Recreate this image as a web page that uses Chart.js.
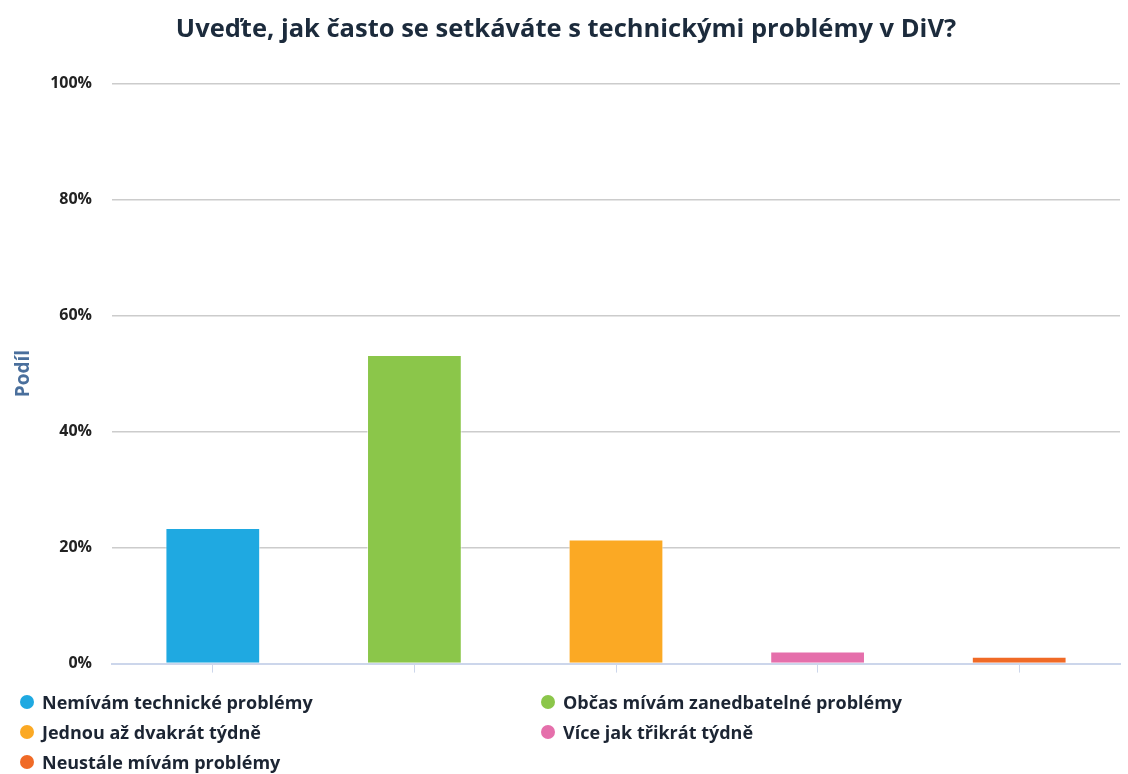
<!DOCTYPE html>
<html lang="cs">
<head>
<meta charset="utf-8">
<title>Technické problémy v DiV</title>
<script src="https://cdn.jsdelivr.net/npm/chart.js@4.4.1/dist/chart.umd.min.js"></script>
<style>
  html, body { margin: 0; padding: 0; background: #fff; }
  #wrap { position: relative; width: 1128px; height: 774px; }
  #chart { position: absolute; left: 0; top: 0; }
  #legend {
    position: absolute; left: 20px; top: 691px; width: 1100px;
    display: grid; grid-template-columns: 521px 521px; row-gap: 8px;
    font: bold 18px "Open Sans", sans-serif; color: #1c2533;
  }
  #legend .item { display: flex; align-items: center; height: 22px; white-space: nowrap; }
  #legend .dot { width: 14px; height: 14px; border-radius: 50%; margin-right: 8px; }
</style>
</head>
<body>
<div id="wrap">
  <canvas id="chart" width="1128" height="774"></canvas>
  <div id="legend"></div>
</div>
<script>
var nadpis = "Uveďte, jak často se setkáváte s technickými problémy v DiV?";
var kategorie = [
    "Nemívám technické problémy",
    "Občas mívám zanedbatelné problémy",
    "Jednou až dvakrát týdně",
    "Více jak třikrát týdně",
    "Neustále mívám problémy"
];
var podil = [23.4, 53.2, 21.4, 2.1, 1.2];
var barvy = ["#1fa9e1", "#8bc64a", "#fba924", "#e56fab", "#f06a26"];
var osaY = [0, 20, 40, 60, 80, 100];

new Chart(document.getElementById("chart").getContext("2d"), {
    type: 'bar',
    data: {
        labels: kategorie,
        datasets: [{
            data: podil,
            backgroundColor: barvy,
            borderColor: 'rgba(255,255,255,0.6)',
            borderWidth: 1,
            barPercentage: 0.94,
            categoryPercentage: 0.5
        }]
    },
    options: {
        responsive: false,
        animation: false,
        layout: { padding: { top: 6, right: 8, bottom: 81, left: 12 } },
        plugins: {
            legend: { display: false },
            tooltip: { enabled: false },
            title: {
                display: true,
                text: nadpis,
                color: '#1c2b3c',
                font: { family: 'Open Sans', size: 25.5, weight: 'bold' },
                padding: { top: 8, bottom: 39 }
            }
        },
        scales: {
            x: {
                offset: true,
                grid: { offset: false, drawOnChartArea: false, drawTicks: true, tickLength: 9, color: '#ccd6eb' },
                border: { color: '#ccd6eb', width: 2 },
                ticks: { callback: function () { return ''; } }
            },
            y: {
                min: 0,
                max: 100,
                afterBuildTicks: function (axis) {
                    axis.ticks = osaY.map(function (v) { return { value: v }; });
                },
                // pevná šířka osy, aby plocha grafu začínala u x = 112
                afterFit: function (axis) { axis.width = 100; },
                grid: { color: '#cccccc', lineWidth: 1.5, drawTicks: false },
                border: { display: false },
                ticks: {
                    padding: 20,
                    color: '#222',
                    font: { family: 'Open Sans', size: 16, weight: 'bold' },
                    callback: function (v) { return v + '%'; }
                },
                title: {
                    display: true,
                    text: 'Podíl',
                    color: '#4a6f9c',
                    font: { family: 'Open Sans', size: 19, weight: 'bold' },
                    padding: { top: 0, bottom: 4 }
                }
            }
        }
    }
});

var legenda = document.getElementById("legend");
kategorie.forEach(function (k, i) {
    var item = document.createElement("div");
    item.className = "item";
    item.innerHTML = '<span class="dot" style="background:' + barvy[i] + '"></span>' + k;
    legenda.appendChild(item);
});
</script>
</body>
</html>
